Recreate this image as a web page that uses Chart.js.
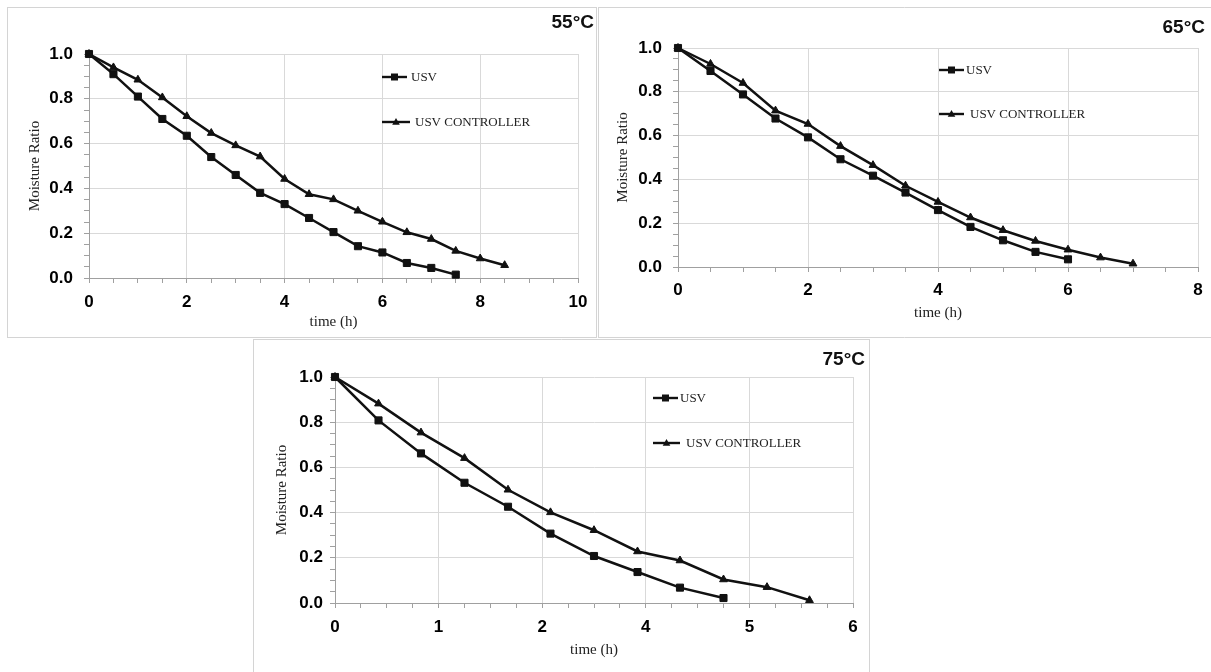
<!DOCTYPE html>
<html>
<head>
<meta charset="utf-8">
<script src="https://cdn.jsdelivr.net/npm/chart.js@4/dist/chart.umd.min.js"></script>
<style>
html,body{margin:0;padding:0;background:#fff;}
body{width:1211px;height:672px;position:relative;overflow:hidden;}
canvas{position:absolute;}
</style>
</head>
<body>
<canvas id="c55" width="590" height="331" style="left:7px;top:7px"></canvas>
<canvas id="c65" width="613" height="331" style="left:598px;top:7px"></canvas>
<canvas id="c75" width="617" height="333" style="left:253px;top:339px"></canvas>
<script>
// ---------- data ----------
const seriesLabels = ['USV', 'USV CONTROLLER'];
const panelTitles = ['55°C', '65°C', '75°C'];
const xAxisTitle = 'time (h)';
const yAxisTitle = 'Moisture Ratio';

const timeUsv55  = [0, 0.5, 1, 1.5, 2, 2.5, 3, 3.5, 4, 4.5, 5, 5.5, 6, 6.5, 7, 7.5];
const usv55      = [1.0, 0.91, 0.81, 0.71, 0.635, 0.54, 0.46, 0.38, 0.33, 0.268, 0.205, 0.142, 0.114, 0.067, 0.045, 0.015];
const timeCtrl55 = [0, 0.5, 1, 1.5, 2, 2.5, 3, 3.5, 4, 4.5, 5, 5.5, 6, 6.5, 7, 7.5, 8, 8.5];
const ctrl55     = [1.0, 0.94, 0.885, 0.806, 0.722, 0.647, 0.592, 0.542, 0.442, 0.374, 0.351, 0.3, 0.251, 0.204, 0.174, 0.121, 0.087, 0.057];

const timeUsv65  = [0, 0.5, 1, 1.5, 2, 2.5, 3, 3.5, 4, 4.5, 5, 5.5, 6];
const usv65      = [1.0, 0.895, 0.788, 0.678, 0.592, 0.492, 0.417, 0.34, 0.26, 0.183, 0.122, 0.069, 0.035];
const timeCtrl65 = [0, 0.5, 1, 1.5, 2, 2.5, 3, 3.5, 4, 4.5, 5, 5.5, 6, 6.5, 7];
const ctrl65     = [1.0, 0.927, 0.84, 0.714, 0.653, 0.552, 0.465, 0.371, 0.297, 0.226, 0.168, 0.119, 0.079, 0.043, 0.015];

const timeUsv75  = [0, 0.42, 0.83, 1.25, 1.67, 2.08, 2.5, 2.92, 3.33, 3.75];
const usv75      = [1.0, 0.808, 0.662, 0.532, 0.426, 0.307, 0.208, 0.137, 0.068, 0.022];
const timeCtrl75 = [0, 0.42, 0.83, 1.25, 1.67, 2.08, 2.5, 2.92, 3.33, 3.75, 4.17, 4.58];
const ctrl75     = [1.0, 0.882, 0.754, 0.641, 0.501, 0.401, 0.322, 0.228, 0.188, 0.104, 0.07, 0.012];

const xTicks55 = ['0', '2', '4', '6', '8', '10'];
const xTicks65 = ['0', '2', '4', '6', '8'];
const xTicks75 = ['0', '1', '2', '4', '5', '6'];
const yTicks   = ['0.0', '0.2', '0.4', '0.6', '0.8', '1.0'];

// ---------- helpers ----------
const pts = (xs, ys) => xs.map((x, i) => ({x: x, y: ys[i]}));
const near = (a, b) => Math.abs(a - b) < 1e-7;

const panelCfg = {
  c55: {title: panelTitles[0], titleX: 587, titleY: 16, frame: {l: true, t: true, r: true, b: true},
        legend: [{x1: 375, x2: 400, y: 70, tx: 404}, {x1: 375, x2: 403, y: 115, tx: 408}]},
  c65: {title: panelTitles[1], titleX: 607, titleY: 21, frame: {l: true, t: true, r: false, b: true},
        legend: [{x1: 341, x2: 366, y: 63, tx: 368}, {x1: 341, x2: 366, y: 107, tx: 372}]},
  c75: {title: panelTitles[2], titleX: 612, titleY: 21, frame: {l: true, t: true, r: true, b: false},
        legend: [{x1: 400, x2: 425, y: 59, tx: 427}, {x1: 400, x2: 427, y: 104, tx: 433}]}
};

const decor = {
  id: 'decor',
  beforeDraw(chart) {
    const cfg = panelCfg[chart.canvas.id];
    const ctx = chart.ctx, W = chart.width, H = chart.height;
    ctx.save();
    ctx.fillStyle = '#fff';
    ctx.fillRect(0, 0, W, H);
    ctx.strokeStyle = '#d4d4d4';
    ctx.lineWidth = 1;
    ctx.beginPath();
    if (cfg.frame.l) { ctx.moveTo(0.5, 0); ctx.lineTo(0.5, H); }
    if (cfg.frame.t) { ctx.moveTo(0, 0.5); ctx.lineTo(W, 0.5); }
    if (cfg.frame.r) { ctx.moveTo(W - 0.5, 0); ctx.lineTo(W - 0.5, H); }
    if (cfg.frame.b) { ctx.moveTo(0, H - 0.5); ctx.lineTo(W, H - 0.5); }
    ctx.stroke();
    ctx.restore();
  },
  afterDraw(chart) {
    const cfg = panelCfg[chart.canvas.id];
    const ctx = chart.ctx;
    ctx.save();
    ctx.font = 'bold 19px "Liberation Sans", Arial, sans-serif';
    ctx.fillStyle = '#111';
    ctx.textAlign = 'right';
    ctx.textBaseline = 'middle';
    ctx.fillText(cfg.title, cfg.titleX, cfg.titleY);
    chart.data.datasets.forEach((ds, i) => {
      const L = cfg.legend[i];
      ctx.strokeStyle = '#111';
      ctx.lineWidth = 2.4;
      ctx.beginPath();
      ctx.moveTo(L.x1, L.y); ctx.lineTo(L.x2, L.y);
      ctx.stroke();
      const cx = (L.x1 + L.x2) / 2;
      ctx.fillStyle = '#111';
      ctx.beginPath();
      if (ds.pointStyle === 'rect') {
        ctx.rect(cx - 3.5, L.y - 3.5, 7, 7);
      } else {
        ctx.moveTo(cx, L.y - 4);
        ctx.lineTo(cx + 3.8, L.y + 2.8);
        ctx.lineTo(cx - 3.8, L.y + 2.8);
        ctx.closePath();
      }
      ctx.fill();
      ctx.font = '13px "Liberation Serif", "Times New Roman", serif';
      ctx.fillStyle = '#222';
      ctx.textAlign = 'left';
      ctx.textBaseline = 'middle';
      ctx.fillText(ds.label, L.tx, L.y + 0.5);
    });
    ctx.restore();
  }
};

const tickFont = {family: '"Liberation Sans", Arial, sans-serif', size: 17, weight: 'bold'};
const titleFont = {family: '"Liberation Serif", "Times New Roman", serif', size: 15, weight: 'normal'};

function makeChart(id, p) {
  const majorX = v => near(v / p.xMajor, Math.round(v / p.xMajor));
  const majorY = v => near(v * 5, Math.round(v * 5));
  return new Chart(document.getElementById(id), {
    type: 'line',
    data: {
      datasets: [
        {label: seriesLabels[0], data: pts(p.tu, p.u), borderColor: '#111', backgroundColor: '#111',
         borderWidth: 2.5, pointStyle: 'rect', pointRadius: 5, pointBorderWidth: 1, tension: 0, clip: false},
        {label: seriesLabels[1], data: pts(p.tc, p.c), borderColor: '#111', backgroundColor: '#111',
         borderWidth: 2.5, pointStyle: 'triangle', pointRadius: 4.5, pointBorderWidth: 1, tension: 0, clip: false}
      ]
    },
    options: {
      responsive: false,
      animation: false,
      devicePixelRatio: 1,
      layout: {padding: {top: p.padTop, right: p.padRight, left: 0, bottom: 0}},
      plugins: {legend: {display: false}, tooltip: {enabled: false}, title: {display: false}},
      scales: {
        x: {
          type: 'linear', min: 0, max: p.xMax,
          ticks: {
            stepSize: p.xMinor, autoSkip: false, maxRotation: 0, minRotation: 0, maxTicksLimit: 1000,
            padding: p.xPad, font: tickFont, color: '#000',
            callback: v => majorX(v) ? p.xLabels[Math.round(v / p.xMajor)] : ''
          },
          grid: {
            color: c => (c.tick && majorX(c.tick.value)) ? '#d9d9d9' : 'rgba(0,0,0,0)',
            tickColor: '#a0a0a0', tickLength: 5, drawTicks: true, lineWidth: 1
          },
          border: {color: '#a0a0a0', width: 1},
          title: {display: true, text: xAxisTitle, font: titleFont, color: '#222', padding: {top: 0, bottom: p.xTitlePad}},
          afterFit: s => { s.height = p.xH; }
        },
        y: {
          type: 'linear', min: 0, max: 1,
          ticks: {
            stepSize: 0.05, autoSkip: false, maxTicksLimit: 1000,
            padding: p.yPad, font: tickFont, color: '#000',
            callback: v => majorY(v) ? yTicks[Math.round(v * 5)] : ''
          },
          grid: {
            color: c => (c.tick && majorY(c.tick.value)) ? '#d9d9d9' : 'rgba(0,0,0,0)',
            tickColor: '#a0a0a0', tickLength: 5, drawTicks: true, lineWidth: 1
          },
          border: {color: '#a0a0a0', width: 1},
          title: {display: true, text: yAxisTitle, font: titleFont, color: '#222', padding: {top: p.yTitlePad, bottom: 0}},
          afterFit: s => { s.width = p.yW; }
        }
      }
    },
    plugins: [decor]
  });
}

makeChart('c55', {tu: timeUsv55, u: usv55, tc: timeCtrl55, c: ctrl55, xMax: 10, xMinor: 0.5, xMajor: 2,
  xLabels: xTicks55, padTop: 47, padRight: 19, yW: 82, xH: 60, xPad: 9, yPad: 11, xTitlePad: 7, yTitlePad: 19});
makeChart('c65', {tu: timeUsv65, u: usv65, tc: timeCtrl65, c: ctrl65, xMax: 8, xMinor: 0.5, xMajor: 2,
  xLabels: xTicks65, padTop: 41, padRight: 13, yW: 80, xH: 71, xPad: 8, yPad: 11, xTitlePad: 16, yTitlePad: 16});
makeChart('c75', {tu: timeUsv75, u: usv75, tc: timeCtrl75, c: ctrl75, xMax: 5, xMinor: 0.25, xMajor: 1,
  xLabels: xTicks75, padTop: 38, padRight: 17, yW: 82, xH: 69, xPad: 9, yPad: 7, xTitlePad: 13, yTitlePad: 20});
</script>
</body>
</html>
